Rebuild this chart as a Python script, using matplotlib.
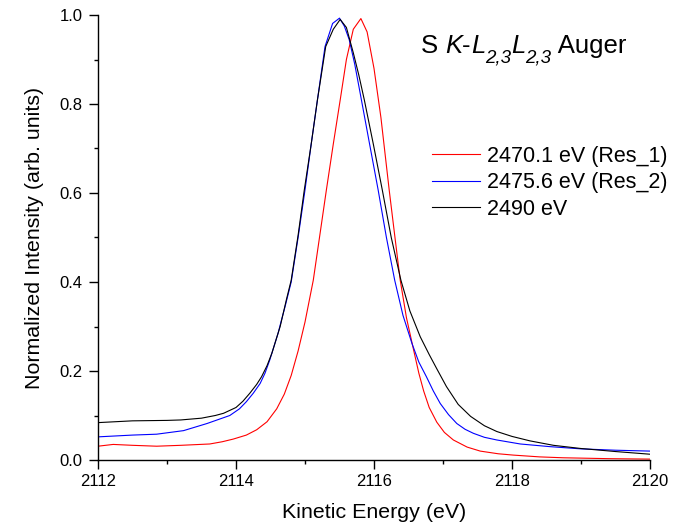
import matplotlib
matplotlib.use("Agg")
import matplotlib.pyplot as plt
from matplotlib.ticker import MultipleLocator, FormatStrFormatter
from matplotlib.transforms import offset_copy

plt.rcParams['font.family'] = ['Liberation Sans', 'DejaVu Sans']

# Data
x_res1 = [2112.00, 2112.22, 2112.50, 2112.85, 2113.20, 2113.62, 2113.80, 2113.96, 2114.15,
          2114.30, 2114.45, 2114.59, 2114.70, 2114.80, 2114.90, 2115.00, 2115.12, 2115.21,
          2115.31, 2115.41, 2115.51, 2115.60, 2115.70, 2115.81, 2115.90, 2116.00, 2116.10,
          2116.22, 2116.30, 2116.38, 2116.47, 2116.57, 2116.65, 2116.72, 2116.80, 2116.91,
          2117.02, 2117.15, 2117.35, 2117.54, 2117.80, 2118.02, 2118.40, 2118.74, 2119.40,
          2120.00]
y_res1 = [0.031, 0.035, 0.033, 0.031, 0.033, 0.036, 0.041, 0.047, 0.056,
          0.068, 0.086, 0.115, 0.148, 0.190, 0.245, 0.310, 0.404, 0.500,
          0.607, 0.710, 0.809, 0.900, 0.968, 0.992, 0.962, 0.880, 0.770,
          0.607, 0.505, 0.404, 0.320, 0.250, 0.195, 0.155, 0.118, 0.085,
          0.062, 0.045, 0.029, 0.020, 0.014, 0.011, 0.007, 0.005, 0.003,
          0.002]

x_res2 = [2112.00, 2112.50, 2112.85, 2113.24, 2113.58, 2113.91, 2114.05, 2114.15, 2114.25,
          2114.35, 2114.42, 2114.49, 2114.55, 2114.61, 2114.66, 2114.71, 2114.80, 2114.90,
          2115.00, 2115.09, 2115.18, 2115.29, 2115.40, 2115.50, 2115.57, 2115.64, 2115.72,
          2115.80, 2115.93, 2116.06, 2116.18, 2116.30, 2116.42, 2116.55, 2116.65, 2116.76,
          2116.86, 2116.96, 2117.08, 2117.20, 2117.32, 2117.44, 2117.60, 2117.78, 2118.12,
          2118.55, 2119.00, 2119.50, 2120.00]
y_res2 = [0.052, 0.056, 0.058, 0.066, 0.082, 0.100, 0.115, 0.131, 0.150,
          0.172, 0.195, 0.225, 0.255, 0.285, 0.315, 0.344, 0.400, 0.500,
          0.607, 0.710, 0.809, 0.929, 0.981, 0.993, 0.975, 0.945, 0.890,
          0.824, 0.715, 0.607, 0.500, 0.404, 0.325, 0.262, 0.220, 0.187,
          0.155, 0.127, 0.102, 0.082, 0.069, 0.060, 0.051, 0.045, 0.036,
          0.030, 0.025, 0.022, 0.020]

x_2490 = [2112.00, 2112.50, 2113.00, 2113.20, 2113.50, 2113.70, 2113.82, 2114.00, 2114.10,
          2114.20, 2114.30, 2114.37, 2114.45, 2114.52, 2114.58, 2114.64, 2114.73, 2114.80,
          2114.90, 2114.99, 2115.09, 2115.18, 2115.30, 2115.41, 2115.51, 2115.60, 2115.70,
          2115.78, 2115.86, 2115.99, 2116.12, 2116.25, 2116.39, 2116.52, 2116.67, 2116.80,
          2116.91, 2117.05, 2117.22, 2117.40, 2117.60, 2117.78, 2118.00, 2118.26, 2118.60,
          2118.99, 2119.50, 2120.00]
y_2490 = [0.084, 0.088, 0.089, 0.090, 0.094, 0.100, 0.105, 0.118, 0.132,
          0.150, 0.170, 0.187, 0.212, 0.240, 0.270, 0.300, 0.360, 0.404,
          0.505, 0.607, 0.710, 0.809, 0.929, 0.968, 0.990, 0.972, 0.915,
          0.865, 0.809, 0.710, 0.607, 0.500, 0.404, 0.335, 0.277, 0.237,
          0.205, 0.165, 0.125, 0.098, 0.077, 0.064, 0.053, 0.043, 0.033,
          0.026, 0.019, 0.013]

labels = ["2470.1 eV (Res_1)", "2475.6 eV (Res_2)", "2490 eV"]
colors = ["#ff0000", "#0000ff", "#000000"]

# Title pieces: (text, italic, subscript)
title_pieces = [("S ", False, False), ("K", True, False), ("-", False, False),
                ("L", True, False), ("2,3", True, True), ("L", True, False),
                ("2,3", True, True), (" Auger", False, False)]

fig = plt.figure(figsize=(6.92, 5.31), dpi=100)
ax = fig.add_axes([98/692, 1-460/531, 552/692, 445/531])

for xs, ys, lab, c in zip([x_res1, x_res2, x_2490], [y_res1, y_res2, y_2490], labels, colors):
    ax.plot(xs, ys, color=c, lw=0.8, label=lab)

ax.set_xlim(2112, 2120)
ax.set_ylim(0, 1.0)
ax.xaxis.set_major_locator(MultipleLocator(2))
ax.xaxis.set_minor_locator(MultipleLocator(1))
ax.yaxis.set_major_locator(MultipleLocator(0.2))
ax.yaxis.set_minor_locator(MultipleLocator(0.1))
ax.yaxis.set_major_formatter(FormatStrFormatter('%.1f'))

for s in ['top', 'right']:
    ax.spines[s].set_visible(False)
for s in ['left', 'bottom']:
    ax.spines[s].set_linewidth(1.0)
ax.tick_params(which='major', direction='out', length=6.7, width=1.0, labelsize=12)
ax.tick_params(which='minor', direction='out', length=3.2, width=1.0)
ax.tick_params(axis='x', which='major', pad=3.5)
ax.tick_params(axis='y', which='major', pad=4.5)

ax.set_xlabel("Kinetic Energy (eV)", fontsize=15.4, labelpad=10)
ax.set_ylabel("Normalized Intensity (arb. units)", fontsize=15.4, labelpad=11)

leg = ax.legend(loc='upper left', bbox_to_anchor=((432-98)/552, (460-146)/445), frameon=False,
                fontsize=15.5, handlelength=2.23, handletextpad=0.33, labelspacing=0.25,
                borderaxespad=0, borderpad=0)

# Compose the title from pieces
fig.canvas.draw()
renderer = fig.canvas.get_renderer()
x_off = 0.0
main_size = 18.5
sub_size = 13.5
sub_drop = -7.0  # points
for txt, ital, sub in title_pieces:
    tr = offset_copy(ax.transAxes, fig=fig, x=x_off, y=(sub_drop if sub else 0), units='points')
    t = ax.text(0.585, 0.915, txt, transform=tr, fontsize=(sub_size if sub else main_size),
                fontstyle=('italic' if ital else 'normal'), va='baseline', ha='left')
    bb = t.get_window_extent(renderer)
    x_off += bb.width * 72.0 / fig.dpi

fig.savefig("out.png", dpi=100)
